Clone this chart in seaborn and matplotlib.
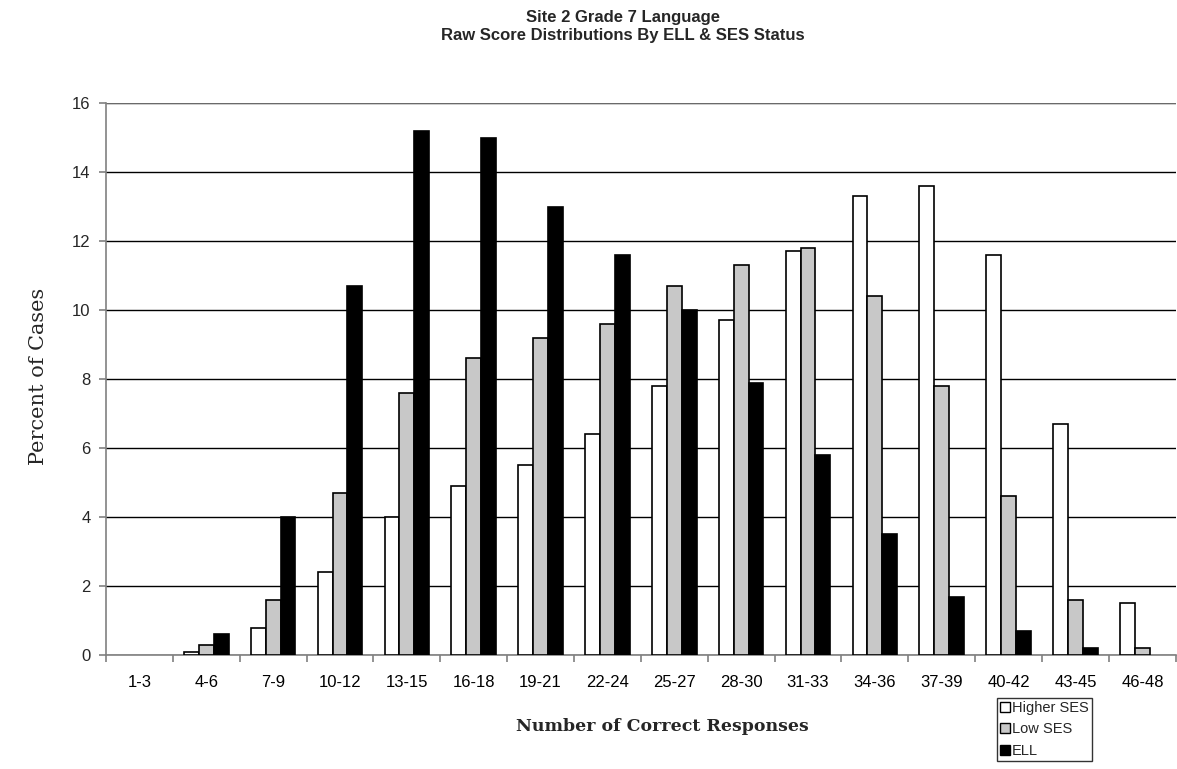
import matplotlib
matplotlib.use("Agg")
import matplotlib.pyplot as plt
import seaborn as sns
import pandas as pd
from matplotlib.patches import Patch
from matplotlib.ticker import FixedLocator

categories = ["1-3", "4-6", "7-9", "10-12", "13-15", "16-18", "19-21", "22-24",
              "25-27", "28-30", "31-33", "34-36", "37-39", "40-42", "43-45", "46-48"]
higher_ses = [0, 0.1, 0.8, 2.4, 4.0, 4.9, 5.5, 6.4, 7.8, 9.7, 11.7, 13.3, 13.6, 11.6, 6.7, 1.5]
low_ses = [0, 0.3, 1.6, 4.7, 7.6, 8.6, 9.2, 9.6, 10.7, 11.3, 11.8, 10.4, 7.8, 4.6, 1.6, 0.2]
ell = [0, 0.6, 4.0, 10.7, 15.2, 15.0, 13.0, 11.6, 10.0, 7.9, 5.8, 3.5, 1.7, 0.7, 0.2, 0]
series = ["Higher SES", "Low SES", "ELL"]
colors = ["#FFFFFF", "#C8C8C8", "#000000"]

rows = []
for name, vals in zip(series, [higher_ses, low_ses, ell]):
    for c, v in zip(categories, vals):
        rows.append({"cat": c, "group": name, "val": v})
df = pd.DataFrame(rows)

sns.set_style("white")
plt.rcParams['font.family'] = ['Liberation Sans', 'DejaVu Sans']

fig = plt.figure(figsize=(11.77, 7.69), dpi=100)
ax = fig.add_axes([0.090, 0.148, 0.909, 0.718])

sns.barplot(data=df, x="cat", y="val", hue="group", order=categories,
            hue_order=series, palette=colors, width=0.667, gap=0,
            edgecolor="black", linewidth=1.2, ax=ax, legend=False, zorder=3)
for p in ax.patches:
    if p.get_height() == 0:
        p.set_linewidth(0)

ax.set_ylim(0, 16)
ax.set_xlim(-0.5, len(categories) - 0.5)
ax.set_yticks(range(0, 17, 2))
ax.yaxis.grid(True, color="#000000", linewidth=1.0, zorder=0)
ax.set_axisbelow(True)
ax.axhline(16, color="#808080", linewidth=1.2, zorder=1)

for s in ["top", "right"]:
    ax.spines[s].set_visible(False)
for s in ["left", "bottom"]:
    ax.spines[s].set_color("#808080")
    ax.spines[s].set_linewidth(1.2)

ax.tick_params(axis="x", which="major", length=0, labelsize=12, pad=14, colors="black")
ax.xaxis.set_minor_locator(FixedLocator([i - 0.5 for i in range(len(categories) + 1)]))
ax.tick_params(axis="x", which="minor", length=5, width=1.2, color="#808080", bottom=True)
ax.tick_params(axis="y", length=5, width=1.2, color="#808080", labelsize=12, left=True, pad=6)

ax.set_xlabel("")
ax.set_ylabel("")
fig.text(0.529, 0.977, "Site 2 Grade 7 Language", ha="center", va="center",
         fontsize=12, fontweight="bold")
fig.text(0.529, 0.954, "Raw Score Distributions By ELL & SES Status", ha="center", va="center",
         fontsize=12, fontweight="bold")
fig.text(0.563, 0.055, "Number of Correct Responses", ha="center", va="center",
         fontsize=12.5, fontweight="bold", family="DejaVu Serif")
fig.text(0.033, 0.51, "Percent of Cases", ha="center", va="center", rotation=90,
         fontsize=15, family="DejaVu Serif")

handles = [Patch(facecolor=c, edgecolor="black", linewidth=1) for c in colors]
leg = fig.legend(handles, series, loc="upper left", bbox_to_anchor=(0.847, 0.092),
                 frameon=True, fontsize=10.5, handlelength=0.7, handleheight=0.7,
                 handletextpad=0.15, borderpad=0.2, labelspacing=0.5, fancybox=False,
                 borderaxespad=0)
leg.get_frame().set_edgecolor("black")
leg.get_frame().set_linewidth(1.0)

fig.savefig("out.png", dpi=100)
